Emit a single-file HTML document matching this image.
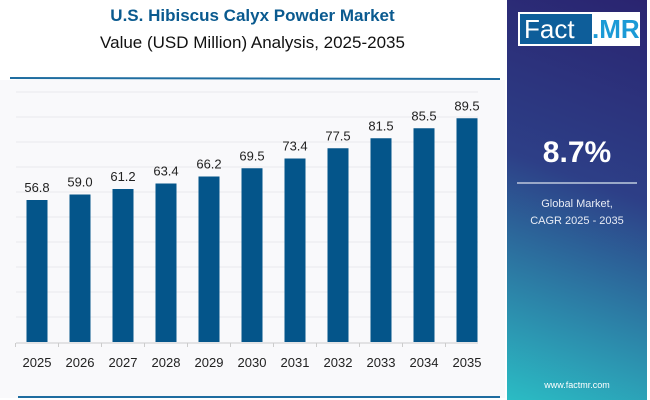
<!DOCTYPE html>
<html><head><meta charset="utf-8"><style>
body{margin:0;width:650px;height:400px;overflow:hidden;background:#fff;font-family:"Liberation Sans",sans-serif;position:relative}
.t1{position:absolute;left:0;width:505px;top:6px;text-align:center;font-weight:bold;font-size:17px;color:#0a5a8f}
.t2{position:absolute;left:0;width:505px;top:33px;text-align:center;font-size:17px;color:#111}
.panel{position:absolute;left:507px;top:0;width:140px;height:400px;background:linear-gradient(200deg,#2a2470 0%,#2d3f87 45%,#2bbcc4 100%)}
</style></head><body>
<div class="t1">U.S. Hibiscus Calyx Powder Market</div>
<div class="t2">Value (USD Million) Analysis, 2025-2035</div>
<svg id="c" width="505" height="400" style="position:absolute;left:0;top:0">
<rect x="0" y="80" width="505" height="318" fill="#f9f9fb"/>
<line x1="10" y1="78" x2="500" y2="79" stroke="#1f6da0" stroke-width="2"/>
<line x1="18" y1="397" x2="500" y2="397" stroke="#1f6da0" stroke-width="2"/>
</svg>
<div class="panel">
<div style="position:absolute;left:11px;top:12px;width:122px;height:34px;background:#fff">
<div style="position:absolute;left:2px;top:2px;width:68px;height:30px;background:#0e5e9a;color:#fff;font-size:26px;line-height:30px;padding-left:4px">Fact</div>
<div style="position:absolute;left:74px;top:2px;color:#1b9ad6;font-size:26px;font-weight:bold;line-height:30px">.MR</div></div>
<div style="position:absolute;top:136px;width:140px;text-align:center;color:#fff;font-weight:bold;font-size:30px">8.7%</div>
<div style="position:absolute;left:10px;top:182px;width:120px;height:2px;background:#9aa8c8"></div>
<div style="position:absolute;top:196px;width:140px;text-align:center;color:#e8ecf5;font-size:11px;line-height:17px">Global Market,<br>CAGR 2025 - 2035</div>
<div style="position:absolute;top:380px;width:140px;text-align:center;color:#fff;font-size:9px">www.factmr.com</div>
</div>
<script>
const categories=["2025","2026","2027","2028","2029","2030","2031","2032","2033","2034","2035"];
const values=[56.8,59.0,61.2,63.4,66.2,69.5,73.4,77.5,81.5,85.5,89.5];
const labels=["56.8","59.0","61.2","63.4","66.2","69.5","73.4","77.5","81.5","85.5","89.5"];
const gridTicks=[10,20,30,40,50,60,70,80,90,100];
const svg=document.getElementById('c');const NS="http://www.w3.org/2000/svg";
const base=342,k=2.5,x0=37,step=43,bw=21;
const y=v=>base-v*k, x=i=>x0+i*step;
function mk(t,a){const e=document.createElementNS(NS,t);for(const n in a)e.setAttribute(n,a[n]);svg.appendChild(e);return e;}
gridTicks.forEach(g=>{const l=mk('line',{x1:16,x2:478,y1:y(g),y2:y(g),stroke:'#e9e9ee','stroke-width':1});

});
const ax=mk('line',{x1:16,x2:478,y1:base+1,y2:base+1,stroke:'#ccc'});


categories.forEach((c,i)=>{
const tk=mk('line',{x1:x(i)-step/2,x2:x(i)-step/2,y1:base+1,y2:base+5,stroke:'#ccc'});


const r=mk('rect',{x:x(i)-bw/2,y:y(values[i]),width:bw,height:values[i]*k,fill:'#04558a'});


const t=mk('text',{x:x(i),y:y(values[i])-8,'text-anchor':'middle','font-size':13,fill:'#222'});t.textContent=labels[i];


const ct=mk('text',{x:x(i),y:367,'text-anchor':'middle','font-size':13,fill:'#222'});ct.textContent=c;


});
</script>
</body></html>
